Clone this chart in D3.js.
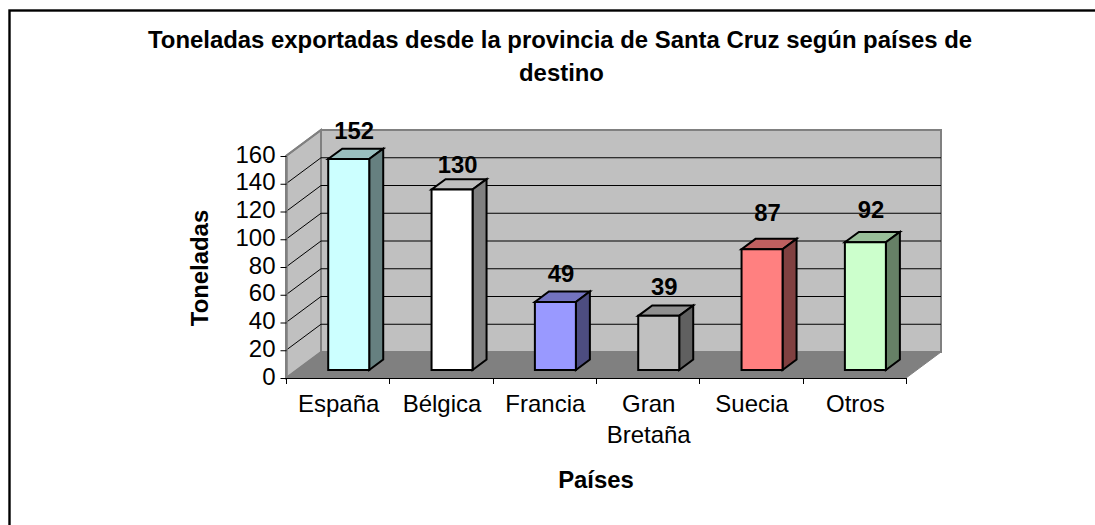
<!DOCTYPE html>
<html><head><meta charset="utf-8">
<script src="https://cdn.jsdelivr.net/npm/d3@7"></script>
<style>html,body{margin:0;padding:0;background:#fff;overflow:hidden}svg{display:block}text{font-family:"Liberation Sans",Arial,sans-serif;fill:#000}</style>
</head><body><svg id="c" width="1095" height="525"></svg>
<script>
const categories = ["España","Bélgica","Francia","Gran Bretaña","Suecia","Otros"];
const values = [152,130,49,39,87,92];
const colors = ["#ccffff","#ffffff","#9999ff","#c0c0c0","#ff8080","#ccffcc"];
const yTicks = [0,20,40,60,80,100,120,140,160];
const titleLines = ["Toneladas exportadas desde la provincia de Santa Cruz según países de","destino"];

const svg = d3.select("#c");
const x = d3.scaleBand().domain(categories).range([286,906]);
const y = d3.scaleLinear().domain([0,160]).range([378,156]);
const depth = d3.scaleLinear().domain([0,1]).range([0,35]);
const depthY = d3.scaleLinear().domain([0,1]).range([0,-26]);
const line = d3.line();
const pt = (px,py,z)=>[px+depth(z),py+depthY(z)];
const poly = (pts,fill,stroke,sw)=>svg.append("path").attr("d",line(pts)+"Z").attr("fill",fill)
  .attr("stroke",stroke).attr("stroke-width",sw).attr("stroke-linejoin","miter");

// frame
svg.append("rect").attr("x",9.5).attr("y",10.5).attr("width",1200).attr("height",800)
  .attr("fill","#fff").attr("stroke","#000").attr("stroke-width",2.4);

const [x0,x1] = x.range();
const yBase = y(0), yTop = y(160);
// walls
poly([pt(x0,yBase,1),pt(x1,yBase,1),pt(x1,yTop,1),pt(x0,yTop,1)],"#c0c0c0","#808080",2);
poly([pt(x0,yBase,0),pt(x0,yBase,1),pt(x0,yTop,1),pt(x0,yTop,0)],"#c0c0c0","#808080",2);
poly([pt(x0,yBase,0),pt(x1,yBase,0),pt(x1,yBase,1),pt(x0,yBase,1)],"#808080","#808080",1);

// gridlines
yTicks.slice(1,-1).forEach(t=>{
  const a=pt(x0,y(t),0), b=pt(x0,y(t),1), c=pt(x1,y(t),1);
  svg.append("path").attr("d",line([a,b,c])).attr("fill","none").attr("stroke","#000").attr("stroke-width",1);
});
{ const t=160; const a=pt(x0,y(t),0), b=pt(x0,y(t),1);
  svg.append("path").attr("d",line([a,b])).attr("fill","none").attr("stroke","#808080").attr("stroke-width",2); }

// axes
const yAxis = d3.axisLeft(y).tickValues(yTicks).tickSize(6).tickPadding(5).tickSizeOuter(0);
const gy = svg.append("g").attr("transform","translate(286.5,0)").call(yAxis);
gy.select(".domain").attr("stroke","#808080").attr("stroke-width",1.5);
gy.selectAll("line").attr("stroke","#000");
gy.selectAll("text").attr("font-size",24).attr("font-family",'"Liberation Sans"').attr("dy","0.25em");

const gx = svg.append("g");
gx.append("line").attr("x1",x0).attr("x2",x1).attr("y1",yBase+.5).attr("y2",yBase+.5).attr("stroke","#000").attr("stroke-width",1.2);
d3.range(7).forEach(i=>{
  const px = Math.round(x0 + i*x.step())+.5;
  gx.append("line").attr("x1",px).attr("x2",px).attr("y1",yBase).attr("y2",yBase+6).attr("stroke","#000");
});
categories.forEach(c=>{
  c.split(" ").forEach((p,i)=>{
    svg.append("text").attr("x",x(c)+x.bandwidth()/2+1).attr("y",411.5+i*31.5)
      .attr("text-anchor","middle").attr("font-size",24).text(p);
  });
});

// bars
const bw = 41, zA = 0.31, zB = 0.71;
const labelNudge = [3,6,3,2,-5,-1];
categories.forEach((c,i)=>{
  const col = d3.color(colors[i]);
  const dark = f=>d3.rgb(col.r*f,col.g*f,col.b*f).formatHex();
  const l = x(c)+x.bandwidth()/2-bw/2+0.2;
  const r = l+bw, b = y(0), t = y(values[i]);
  poly([pt(l,t,zA),pt(r,t,zA),pt(r,t,zB),pt(l,t,zB)],dark(.75),"#000",2);
  poly([pt(r,b,zA),pt(r,b,zB),pt(r,t,zB),pt(r,t,zA)],dark(.5),"#000",2);
  poly([pt(l,b,zA),pt(r,b,zA),pt(r,t,zA),pt(l,t,zA)],colors[i],"#000",2);
  const top = pt(l+bw/2,t,zB);
  svg.append("text").attr("x",top[0]-8.5).attr("y",top[1]-21+labelNudge[i]).attr("text-anchor","middle")
    .attr("dy","0.36em").attr("font-size",23.8).attr("font-weight","bold").text(values[i]);
});

// titles
titleLines.forEach((s,i)=>svg.append("text").attr("x",i?561.5:560).attr("y",48+i*32.5).attr("text-anchor","middle")
  .attr("font-size",23.9).attr("font-weight","bold").text(s));
svg.append("text").attr("transform","translate(208,268) rotate(-90)").attr("text-anchor","middle")
  .attr("font-size",23.9).attr("font-weight","bold").text("Toneladas");
svg.append("text").attr("x",596).attr("y",488).attr("text-anchor","middle")
  .attr("font-size",23.9).attr("font-weight","bold").text("Países");
</script></body></html>
